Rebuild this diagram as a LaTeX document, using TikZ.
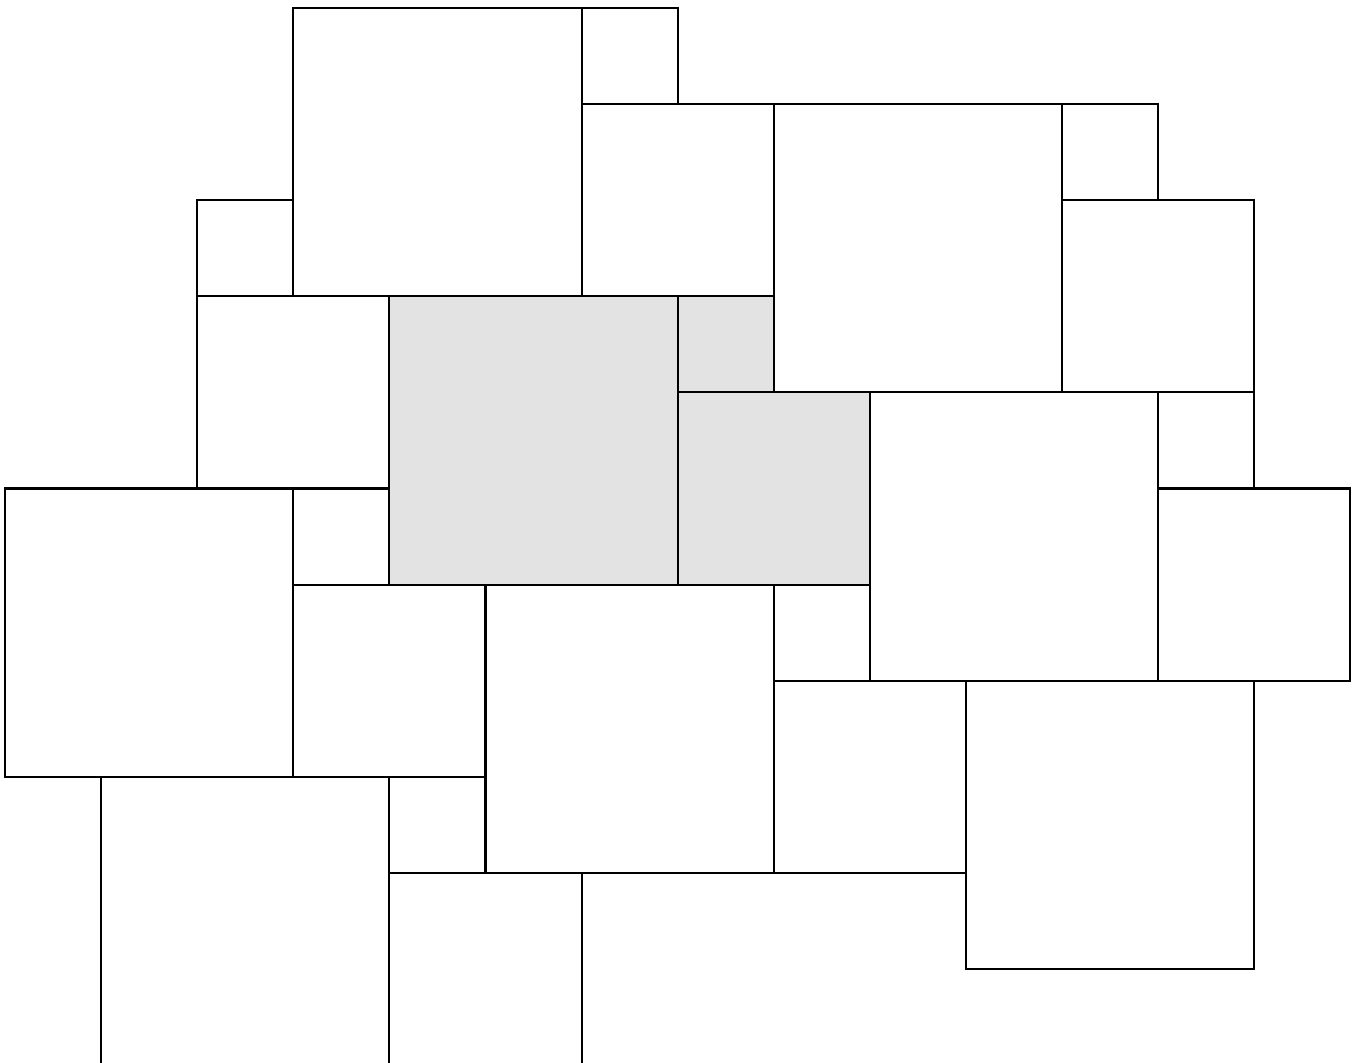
\documentclass[tikz,border=0pt]{standalone}
\usepackage{tikz}

\begin{document}
\begin{tikzpicture}[
  x=1cm, y=-1cm,
  tile/.style={draw=black, line width=0.6pt},
  shaded/.style={tile, fill=gray!22}
]
% frame of the page, the last row runs off the bottom
\useasboundingbox (-0.052,-0.083) rectangle (14.058,10.978);
\clip (-0.052,-0.083) rectangle (14.058,10.978);

% shaded block in the middle
\foreach \x/\y/\s in {4/3/3, 7/3/1, 7/4/2}
  \draw[shaded] (\x,\y) rectangle ++(\s,\s);

% large, middle and small squares
\foreach \x/\y/\s in {3/0/3, 8/1/3, 9/4/3, 0/5/3, 5/6/3, 10/7/3, 1/8/3}
  \draw[tile] (\x,\y) rectangle ++(\s,\s);
\foreach \x/\y/\s in {6/1/2, 11/2/2, 2/3/2, 12/5/2, 3/6/2, 8/7/2, 4/9/2}
  \draw[tile] (\x,\y) rectangle ++(\s,\s);
\foreach \x/\y/\s in {6/0/1, 11/1/1, 2/2/1, 12/4/1, 3/5/1, 8/6/1, 4/8/1}
  \draw[tile] (\x,\y) rectangle ++(\s,\s);
\end{tikzpicture}
\end{document}
